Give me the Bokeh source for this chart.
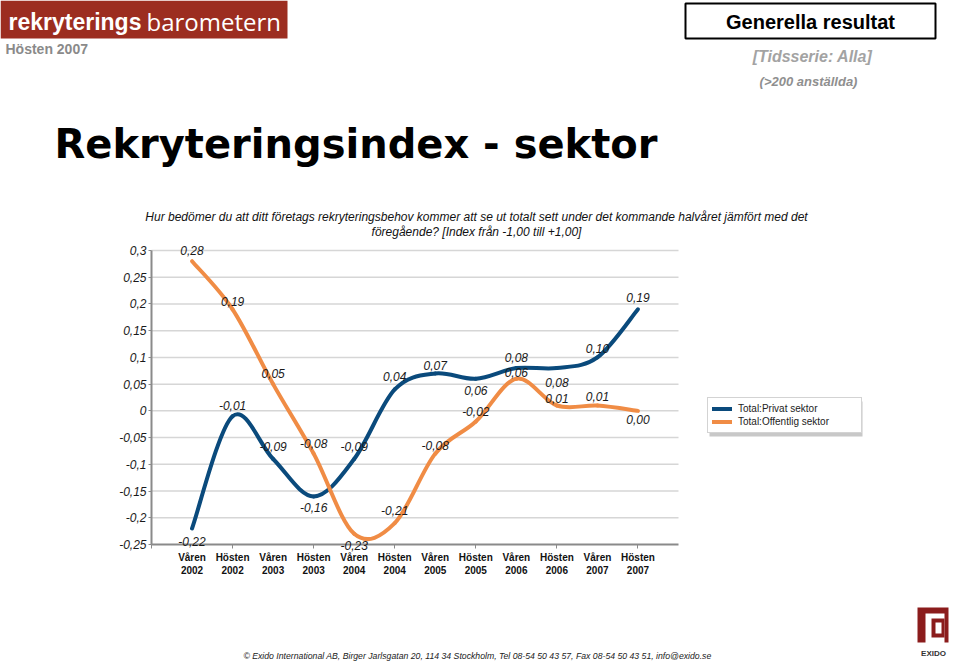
import numpy as np
from bokeh.plotting import figure
from bokeh.models import (ColumnDataSource, FixedTicker, CustomJSTickFormatter, Label,
                          LabelSet, BoxAnnotation, Legend, LegendItem, Range1d, LinearAxis,
                          Grid)
from bokeh.core.properties import value
from bokeh.embed import file_html
from bokeh.resources import INLINE

# ---------------- data ----------------
categories = ["Våren\n2002", "Hösten\n2002", "Våren\n2003", "Hösten\n2003",
              "Våren\n2004", "Hösten\n2004", "Våren\n2005", "Hösten\n2005",
              "Våren\n2006", "Hösten\n2006", "Våren\n2007", "Hösten\n2007"]
privat = [-0.22, -0.01, -0.09, -0.16, -0.09, 0.04, 0.07, 0.06, 0.08, 0.08, 0.10, 0.19]
offentlig = [0.28, 0.19, 0.05, -0.08, -0.23, -0.21, -0.08, -0.02, 0.06, 0.01, 0.01, 0.00]
series_names = ["Total:Privat sektor", "Total:Offentlig sektor"]
y_ticks = [-0.25, -0.2, -0.15, -0.1, -0.05, 0.0, 0.05, 0.1, 0.15, 0.2, 0.25, 0.3]

# label offsets (style, screen px; positive = up)
privat_label_dy = [-13, 11, 12, -11, 12, 13, 8, -12, 11, -14, 9, 12]
offentlig_label_dy = [11, 8, 11, 10, -12, 13, 8, 10, 6, 7, 9, -9]

BLUE = "#0a4a7c"
ORANGE = "#f08c45"
AXIS = "#8a8a8a"
FONT = "Liberation Sans"

# ---------- layout (page pixels) ----------
W, H = 959, 662
PX_LEFT, PX_RIGHT, PX_TOP, PX_BOTTOM = 151, 678, 250, 544
XMIN, XMAX = -1, len(categories)
YMIN, YMAX = y_ticks[0], y_ticks[-1]
xs_ = (PX_RIGHT - PX_LEFT) / (XMAX - XMIN)
ys_ = (PX_BOTTOM - PX_TOP) / (YMAX - YMIN)
X_START = XMIN - PX_LEFT / xs_
X_END = XMAX + (W - PX_RIGHT) / xs_
Y_TOP = YMAX + PX_TOP / ys_
Y_BOTTOM = YMIN - (H - PX_BOTTOM) / ys_

p = figure(width=W, height=H, output_backend="svg", toolbar_location=None,
           x_range=Range1d(X_START, X_END), y_range=Range1d(Y_BOTTOM, Y_TOP),
           x_axis_location=None, y_axis_location=None, min_border=0)
p.outline_line_color = None
p.background_fill_color = "white"
p.border_fill_color = "white"
for g in p.select(type=Grid):
    g.visible = False

# x axis (fixed at y = YMIN)
xaxis = LinearAxis(fixed_location=YMIN, bounds=(XMIN, XMAX))
xaxis.ticker = FixedTicker(ticks=list(range(len(categories))),
                           minor_ticks=[-1, 1, 3, 5, 7, 9, 11])
xaxis.major_label_overrides = {i: c for i, c in enumerate(categories)}
xaxis.major_tick_line_color = None
xaxis.major_tick_out = 0
xaxis.major_tick_in = 0
xaxis.minor_tick_line_color = AXIS
xaxis.minor_tick_out = 4
xaxis.minor_tick_in = 0
xaxis.axis_line_color = AXIS
xaxis.axis_line_width = 2
xaxis.major_label_text_font = FONT
xaxis.major_label_text_font_size = "10px"
xaxis.major_label_text_font_style = "bold"
xaxis.major_label_text_color = "#111111"
xaxis.major_label_standoff = 3
p.add_layout(xaxis, "below")

# y axis (fixed at x = XMIN)
yaxis = LinearAxis(fixed_location=XMIN, bounds=(YMIN, YMAX))
yaxis.ticker = FixedTicker(ticks=y_ticks)
yaxis.formatter = CustomJSTickFormatter(code="""
const v = Math.round(tick*100)/100;
return v.toString().replace('.', ',');
""")
yaxis.major_tick_out = 3
yaxis.major_tick_in = 0
yaxis.major_tick_line_color = AXIS
yaxis.minor_tick_line_color = None
yaxis.axis_line_color = AXIS
yaxis.axis_line_width = 2
yaxis.major_label_text_font = FONT
yaxis.major_label_text_font_size = "12px"
yaxis.major_label_text_font_style = "italic"
yaxis.major_label_text_color = "#1a1a1a"
yaxis.major_label_standoff = 2
p.add_layout(yaxis, "left")

# horizontal gridlines at the y ticks
grid_src = ColumnDataSource(dict(y=y_ticks[1:], x0=[XMIN] * (len(y_ticks) - 1),
                                 x1=[XMAX] * (len(y_ticks) - 1)))
p.segment(x0="x0", x1="x1", y0="y", y1="y", source=grid_src,
          line_color="#d6d6d6", line_width=1.5)


def bezier_source(vals):
    ys = np.asarray(vals, dtype=float)
    xs = np.arange(len(ys), dtype=float)
    xp = np.concatenate([[xs[0]], xs, [xs[-1]]])
    yp = np.concatenate([[ys[0]], ys, [ys[-1]]])
    n = len(ys)
    i = np.arange(n - 1)
    x0, y0 = xp[i + 1], yp[i + 1]
    x1, y1 = xp[i + 2], yp[i + 2]
    cx0 = x0 + (xp[i + 2] - xp[i]) / 6.0
    cy0 = y0 + (yp[i + 2] - yp[i]) / 6.0
    cx1 = x1 - (xp[i + 3] - xp[i + 1]) / 6.0
    cy1 = y1 - (yp[i + 3] - yp[i + 1]) / 6.0
    return ColumnDataSource(dict(x0=x0, y0=y0, x1=x1, y1=y1,
                                 cx0=cx0, cy0=cy0, cx1=cx1, cy1=cy1))


r_priv = p.bezier(x0="x0", y0="y0", x1="x1", y1="y1", cx0="cx0", cy0="cy0",
                  cx1="cx1", cy1="cy1", source=bezier_source(privat),
                  line_color=BLUE, line_width=4, line_cap="round")
r_pub = p.bezier(x0="x0", y0="y0", x1="x1", y1="y1", cx0="cx0", cy0="cy0",
                 cx1="cx1", cy1="cy1", source=bezier_source(offentlig),
                 line_color=ORANGE, line_width=4, line_cap="round")


def fmt(v):
    return f"{v:.2f}".replace(".", ",")


for vals, dys in ((privat, privat_label_dy), (offentlig, offentlig_label_dy)):
    src = ColumnDataSource(dict(x=list(range(len(vals))), y=vals,
                                text=[fmt(v) for v in vals], dy=dys))
    p.add_layout(LabelSet(x="x", y="y", text="text", y_offset="dy", source=src,
                          text_font=value(FONT), text_font_size="12px",
                          text_font_style="italic", text_color="#1a1a1a",
                          text_align="center", text_baseline="middle"))


# ---------- page-coordinate helpers (frame == whole canvas) ----------
def sx(X):
    return X


def sy(Y):
    return H - Y


def box(x0, y0, x1, y1, fill, line=None, lw=1):
    p.add_layout(BoxAnnotation(left=sx(x0), right=sx(x1), top=sy(y0), bottom=sy(y1),
                               left_units="screen", right_units="screen",
                               top_units="screen", bottom_units="screen",
                               fill_color=fill, fill_alpha=1,
                               line_color=line, line_width=lw, line_alpha=1 if line else 0,
                               level="annotation"))


def txt(X, Y, text, size, style="normal", color="#000000", align="left",
        baseline="middle", font=FONT):
    p.add_layout(Label(x=sx(X), y=sy(Y), x_units="screen", y_units="screen",
                       text=text, text_font=font, text_font_size=size,
                       text_font_style=style, text_color=color,
                       text_align=align, text_baseline=baseline))


# legend shadow + legend
box(709, 401, 862, 436, "#c8c8c8")
legend = Legend(items=[LegendItem(label=series_names[0], renderers=[r_priv]),
                       LegendItem(label=series_names[1], renderers=[r_pub])],
                location=(sx(707), sy(433)), orientation="vertical",
                label_text_font=FONT, label_text_font_size="10px",
                label_text_color="#222222",
                glyph_width=20, glyph_height=13, label_height=13, label_width=119,
                label_standoff=6, spacing=0, padding=4, margin=0,
                border_line_color="#a8a8a8", border_line_width=1,
                background_fill_color="white", background_fill_alpha=1)
p.add_layout(legend)

# header: logo
box(0, 0, 287, 38, "#9c2d20")
txt(8, 21, "rekryterings", "23px", "bold", "white")
txt(146, 21, "barometern", "24px", "normal", "white", font="Open Sans")
txt(5, 48.5, "Hösten 2007", "14px", "bold", "#8a8a8a")

# header: right box
box(685, 3, 935, 38, "white", "black", 2)
txt(810, 21.5, "Generella resultat", "20px", "bold", "black", "center")
txt(812, 56, "[Tidsserie: Alla]", "16px", "bold italic", "#a3a3a3", "center")
txt(808, 81, "(>200 anställda)", "13px", "bold italic", "#8f8f8f", "center")

# title
txt(54, 143, "Rekryteringsindex - sektor", "40px", "bold", "black", font="DejaVu Sans")

# question
txt(476, 216, "Hur bedömer du att ditt företags rekryteringsbehov kommer att se ut totalt "
              "sett under det kommande halvåret jämfört med det",
    "12px", "italic", "#111111", "center")
txt(476, 231, "föregående? [Index från -1,00 till +1,00]",
    "12px", "italic", "#111111", "center")

# footer
txt(477, 655, "© Exido International AB, Birger Jarlsgatan 20, 114 34 Stockholm, "
              "Tel 08-54 50 43 57, Fax 08-54 50 43 51, info@exido.se",
    "8.7px", "italic", "#222222", "center")

# EXIDO logo
box(917, 607, 948, 642, "#8b1c1c")
box(925, 613, 944, 643, "white")
box(931, 618, 944, 637, "#8b1c1c")
box(935, 622, 941, 633, "white")
txt(933, 653, "EXIDO", "8px", "bold", "#333333", "center")

open("out.html", "w").write(file_html(p, INLINE))
